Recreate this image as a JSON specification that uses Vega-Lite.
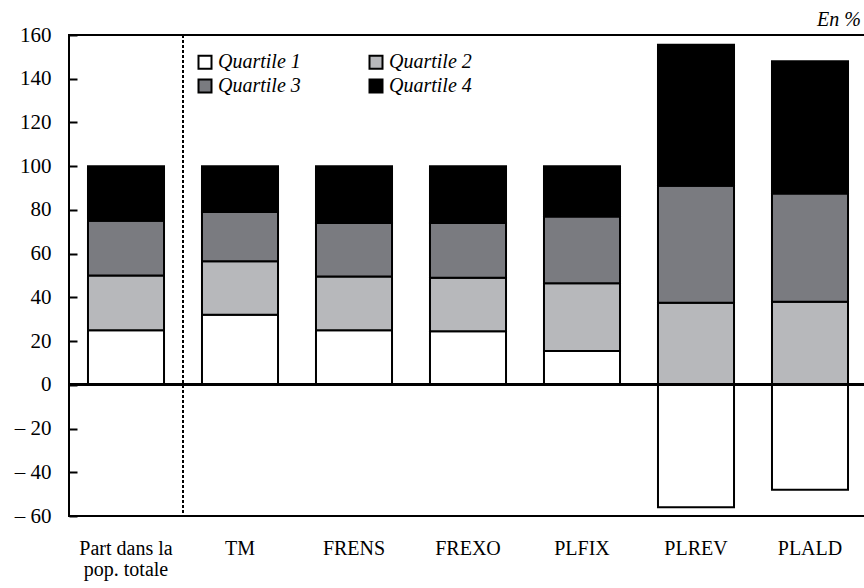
{
  "$schema": "https://vega.github.io/schema/vega-lite/v6.json",
  "width": 798,
  "height": 481,
  "autosize": {"type": "none"},
  "padding": {"left": 69, "top": 35, "right": 0, "bottom": 72},
  "background": "white",
  "config": {
    "view": {"stroke": "black", "strokeWidth": 2},
    "font": "Liberation Serif"
  },
  "title": {
    "text": "En %",
    "anchor": "end",
    "font": "Liberation Serif",
    "fontStyle": "italic",
    "fontWeight": "normal",
    "fontSize": 20,
    "color": "black",
    "offset": -6,
    "dx": -7
  },
  "data": {
    "values": [
      {"cat": "Part dans la pop. totale", "quartile": "Quartile 1", "q": 1, "value": 25},
      {"cat": "Part dans la pop. totale", "quartile": "Quartile 2", "q": 2, "value": 25},
      {"cat": "Part dans la pop. totale", "quartile": "Quartile 3", "q": 3, "value": 25},
      {"cat": "Part dans la pop. totale", "quartile": "Quartile 4", "q": 4, "value": 25},
      {"cat": "TM", "quartile": "Quartile 1", "q": 1, "value": 32},
      {"cat": "TM", "quartile": "Quartile 2", "q": 2, "value": 24.5},
      {"cat": "TM", "quartile": "Quartile 3", "q": 3, "value": 22.5},
      {"cat": "TM", "quartile": "Quartile 4", "q": 4, "value": 21},
      {"cat": "FRENS", "quartile": "Quartile 1", "q": 1, "value": 25},
      {"cat": "FRENS", "quartile": "Quartile 2", "q": 2, "value": 24.5},
      {"cat": "FRENS", "quartile": "Quartile 3", "q": 3, "value": 24.5},
      {"cat": "FRENS", "quartile": "Quartile 4", "q": 4, "value": 26},
      {"cat": "FREXO", "quartile": "Quartile 1", "q": 1, "value": 24.5},
      {"cat": "FREXO", "quartile": "Quartile 2", "q": 2, "value": 24.5},
      {"cat": "FREXO", "quartile": "Quartile 3", "q": 3, "value": 25},
      {"cat": "FREXO", "quartile": "Quartile 4", "q": 4, "value": 26},
      {"cat": "PLFIX", "quartile": "Quartile 1", "q": 1, "value": 15.5},
      {"cat": "PLFIX", "quartile": "Quartile 2", "q": 2, "value": 31},
      {"cat": "PLFIX", "quartile": "Quartile 3", "q": 3, "value": 30.5},
      {"cat": "PLFIX", "quartile": "Quartile 4", "q": 4, "value": 23},
      {"cat": "PLREV", "quartile": "Quartile 1", "q": 1, "value": -56},
      {"cat": "PLREV", "quartile": "Quartile 2", "q": 2, "value": 37.5},
      {"cat": "PLREV", "quartile": "Quartile 3", "q": 3, "value": 53.5},
      {"cat": "PLREV", "quartile": "Quartile 4", "q": 4, "value": 64.5},
      {"cat": "PLALD", "quartile": "Quartile 1", "q": 1, "value": -48},
      {"cat": "PLALD", "quartile": "Quartile 2", "q": 2, "value": 38},
      {"cat": "PLALD", "quartile": "Quartile 3", "q": 3, "value": 49.5},
      {"cat": "PLALD", "quartile": "Quartile 4", "q": 4, "value": 60.5}
    ]
  },
  "layer": [
    {
      "mark": {"type": "bar", "stroke": "black", "strokeWidth": 2},
      "encoding": {
        "x": {
          "field": "cat",
          "type": "nominal",
          "sort": ["Part dans la pop. totale", "TM", "FRENS", "FREXO", "PLFIX", "PLREV", "PLALD"],
          "scale": {"paddingInner": 0.333},
          "axis": {
            "title": null,
            "ticks": false,
            "domain": false,
            "labelAngle": 0,
            "labelFont": "Liberation Serif",
            "labelFontSize": 20,
            "labelFontWeight": "normal",
            "labelColor": "black",
            "labelPadding": 22,
            "labelLineHeight": 21,
            "labelExpr": "datum.value == 'Part dans la pop. totale' ? ['Part dans la', 'pop.  totale'] : datum.label"
          }
        },
        "y": {
          "field": "value",
          "type": "quantitative",
          "stack": "zero",
          "scale": {"domain": [-60, 160], "nice": false},
          "axis": {
            "title": null,
            "grid": false,
            "values": [-60, -40, -20, 0, 20, 40, 60, 80, 100, 120, 140, 160],
            "domain": false,
            "tickColor": "black",
            "tickWidth": 2,
            "tickSize": -8,
            "labelPadding": 26,
            "labelFont": "Liberation Serif",
            "labelFontSize": 21,
            "labelColor": "black",
            "labelExpr": "datum.value < 0 ? '\u2013 ' + abs(datum.value) : datum.label"
          }
        },
        "color": {
          "field": "quartile",
          "type": "nominal",
          "scale": {
            "domain": ["Quartile 1", "Quartile 2", "Quartile 3", "Quartile 4"],
            "range": ["#ffffff", "#b7b8bb", "#7a7b80", "#000000"]
          },
          "legend": {
            "title": null,
            "orient": "none",
            "legendX": 126,
            "legendY": 17,
            "columns": 2,
            "direction": "horizontal",
            "symbolType": "square",
            "symbolSize": 169,
            "symbolStrokeColor": "black",
            "symbolStrokeWidth": 2,
            "labelFont": "Liberation Serif",
            "labelFontStyle": "italic",
            "labelFontSize": 20,
            "labelColor": "black",
            "labelOffset": 3,
            "columnPadding": 64,
            "rowPadding": 2
          }
        },
        "order": {"field": "q", "type": "ordinal"}
      }
    },
    {
      "mark": {"type": "rule", "color": "black", "strokeWidth": 2},
      "encoding": {"y": {"datum": 0}}
    },
    {
      "mark": {"type": "rule", "color": "black", "strokeWidth": 1.5, "strokeDash": [3, 2]},
      "encoding": {"x": {"datum": "Part dans la pop. totale", "bandPosition": 1.25}}
    }
  ]
}
